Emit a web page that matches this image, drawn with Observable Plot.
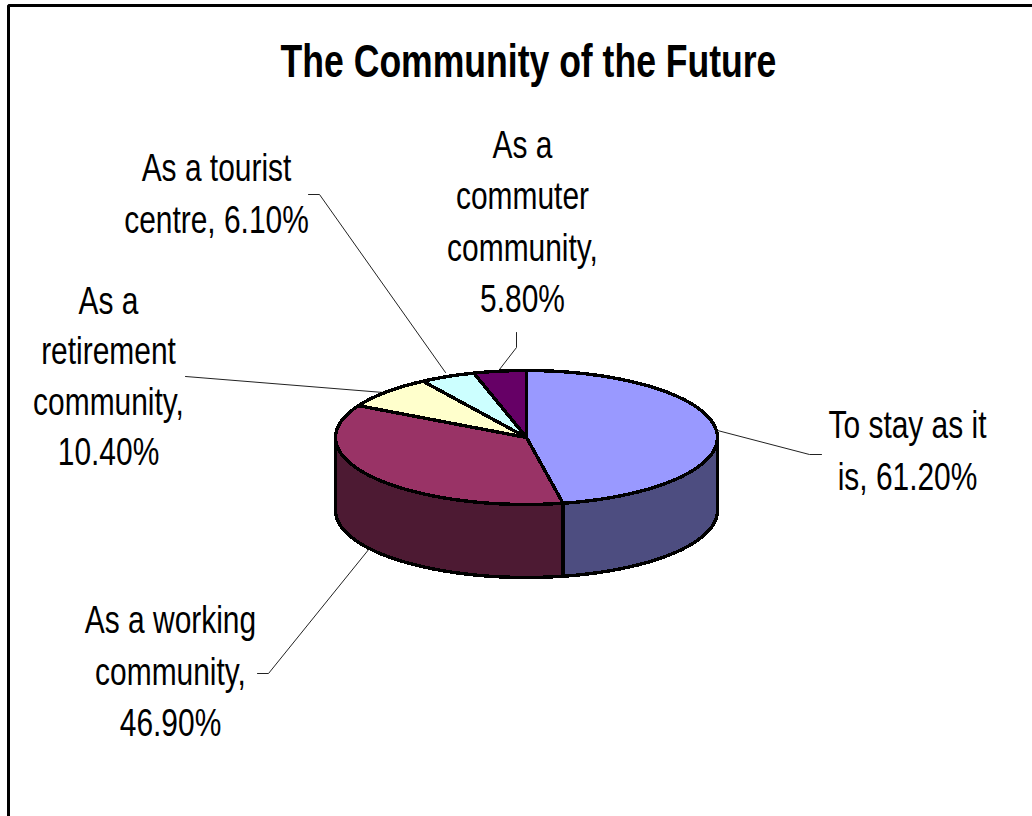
<!DOCTYPE html>
<html>
<head>
<meta charset="utf-8">
<script src="https://cdn.jsdelivr.net/npm/d3@7"></script>
<script src="https://cdn.jsdelivr.net/npm/@observablehq/plot@0.6"></script>
<style>
html,body{margin:0;padding:0;background:#fff;overflow:hidden}
svg{display:block}
</style>
</head>
<body>
<script>
const titleText = "The Community of the Future";
const categories = ["To stay as it is","As a working community","As a retirement community","As a tourist centre","As a commuter community"];
const values = [61.2,46.9,10.4,6.1,5.8];
const labels = ["To stay as it\nis, 61.20%","As a working\ncommunity,\n46.90%","As a\nretirement\ncommunity,\n10.40%","As a tourist\ncentre, 6.10%","As a\ncommuter\ncommunity,\n5.80%"];
const topColors = ["#9999FF","#993366","#FFFFCC","#CCFFFF","#660066"];
const sideColors = ["#4D4D80","#4D1A33","#808066","#668080","#330033"];

// layout, in page pixels
const W = 1032, H = 816;
const cx = 526, cy = 437, rx = 191, ry = 67, depth = 73;
const labelAt = [[907,447],[170,668],[108,373],[216,190],[522,218]];
const labelLeading = [1.355,1.355,1.32,1.355,1.355];
const leaders = [
  [[717,430],[809,454],[821,454]],
  [[257,673],[268,673],[369,548]],
  [[185,376],[383,392]],
  [[308,194],[319,194],[445,372]],
  [[516,332],[516,347],[499,369]]
];
const ux = px => (px-cx)/rx, uy = py => (cy-py)/ry;

// slices in pie units (unit circle); the scales map them to the page
const arcs = d3.pie().sort(null)(values);
const pt = (a,drop=0) => ({x:Math.sin(a), y:Math.cos(a)-drop});
const sweep = (a0,a1,drop=0) => {
  const n = Math.max(2,Math.ceil((a1-a0)/(Math.PI/48)));
  return d3.range(n+1).map(i=>pt(a0+(a1-a0)*i/n,drop));
};
const drop = depth/ry;
const sides = [], tops = [];
arcs.forEach((s,i)=>{
  const a0 = Math.max(s.startAngle,Math.PI/2), a1 = Math.min(s.endAngle,3*Math.PI/2);
  if (a1>a0) {
    const outline = [...sweep(a0,a1,0),...sweep(a0,a1,drop).reverse()];
    outline.forEach(p=>sides.push({...p,k:categories[i],fill:sideColors[i]}));
  }
  [{x:0,y:0},...sweep(s.startAngle,s.endAngle)].forEach(p=>tops.push({...p,k:categories[i],fill:topColors[i]}));
});
const leaderRows = leaders.flatMap((l,i)=>l.map(([a,b])=>({x:ux(a),y:uy(b),k:categories[i]})));
const labelRows = labels.map((t,i)=>({t,x:ux(labelAt[i][0]),y:uy(labelAt[i][1]),lh:labelLeading[i]}));

// the narrow look of the reference's type: squeeze each text horizontally
const squeeze = sx => (index,scales,values,dims,ctx,next) => {
  const g = next(index,scales,values,dims,ctx);
  g.querySelectorAll("text").forEach(t=>t.setAttribute("transform",(t.getAttribute("transform")||"")+` scale(${sx},1)`));
  return g;
};

const font = "'Liberation Sans',Arial,sans-serif";
const labelMarks = d3.groups(labelRows,d=>d.lh).map(([lh,rows])=>
  Plot.text(rows,{x:"x",y:"y",text:"t",fontSize:38,lineHeight:lh,fill:"#000",textAnchor:"middle",lineAnchor:"middle",fontFamily:font,render:squeeze(0.788)}));
const chart = Plot.plot({
  width:W,height:H,margin:0,
  x:{type:"linear",domain:[ux(0),ux(W)],range:[0,W],axis:null},
  y:{type:"linear",domain:[uy(H),uy(0)],range:[H,0],axis:null},
  style:{background:"#fff",fontFamily:font,overflow:"hidden"},
  marks:[
    Plot.line(leaderRows,{x:"x",y:"y",z:"k",stroke:"#222",strokeWidth:1}),
    Plot.line(sides,{x:"x",y:"y",z:"k",fill:"fill",stroke:"#000",strokeWidth:3.4,curve:"linear-closed",strokeLinejoin:"round",shapeRendering:"crispEdges"}),
    Plot.line(tops,{x:"x",y:"y",z:"k",fill:"fill",stroke:"#000",strokeWidth:3.4,curve:"linear-closed",strokeLinejoin:"round",shapeRendering:"crispEdges"}),
    ...labelMarks,
    Plot.text([titleText],{x:[ux(528)],y:[uy(62)],text:d=>d,fontSize:46,fontWeight:"bold",fill:"#000",textAnchor:"middle",lineAnchor:"middle",fontFamily:font,render:squeeze(0.773)}),
    Plot.line([{x:ux(8),y:uy(H)},{x:ux(8),y:uy(5)},{x:ux(W),y:uy(5)}],{x:"x",y:"y",stroke:"#000",strokeWidth:3,strokeLinejoin:"miter"})
  ]
});
document.body.appendChild(chart);
</script>
</body>
</html>
